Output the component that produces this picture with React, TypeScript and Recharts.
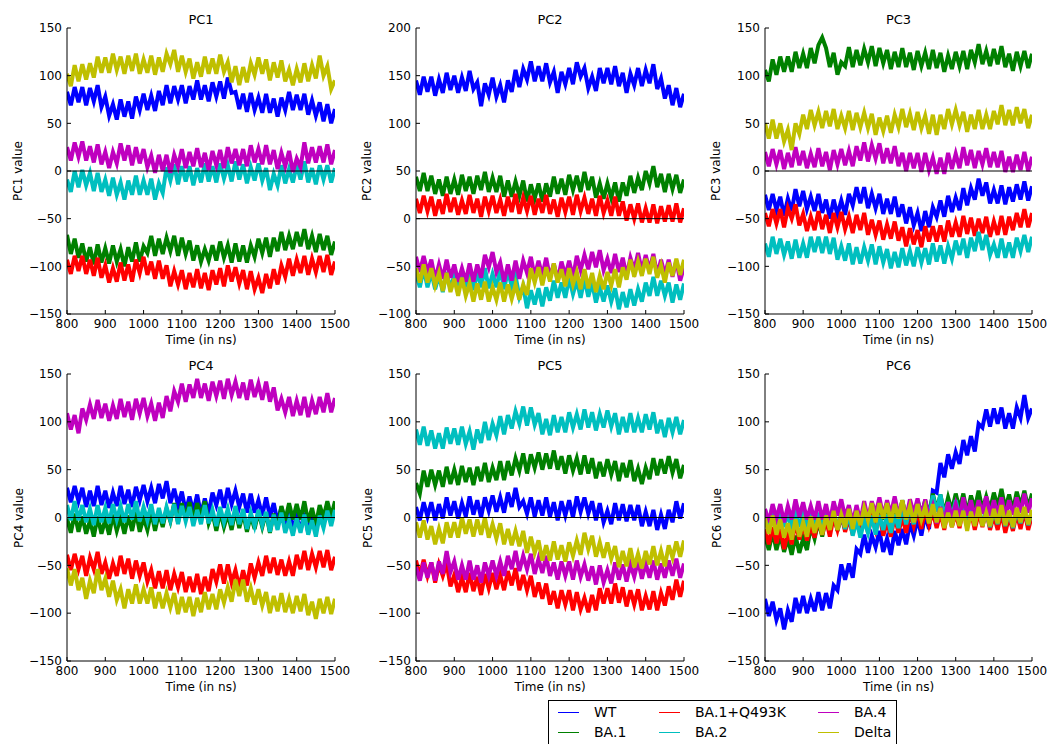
import { LineChart, Line, XAxis, YAxis, ReferenceLine } from 'recharts'

// time axis, one sample every 10 ns
const time = [
  800, 810, 820, 830, 840, 850, 860, 870, 880, 890,
  900, 910, 920, 930, 940, 950, 960, 970, 980, 990,
  1000, 1010, 1020, 1030, 1040, 1050, 1060, 1070, 1080, 1090,
  1100, 1110, 1120, 1130, 1140, 1150, 1160, 1170, 1180, 1190,
  1200, 1210, 1220, 1230, 1240, 1250, 1260, 1270, 1280, 1290,
  1300, 1310, 1320, 1330, 1340, 1350, 1360, 1370, 1380, 1390,
  1400, 1410, 1420, 1430, 1440, 1450, 1460, 1470, 1480, 1490,
  1500,
]

const seriesNames = ['WT', 'BA.1', 'BA.1+Q493K', 'BA.2', 'BA.4', 'Delta']
const xTicks = [800, 900, 1000, 1100, 1200, 1300, 1400, 1500]
const yTicksStd = [-150, -100, -50, 0, 50, 100, 150]
const yTicksPC2 = [-100, -50, 0, 50, 100, 150, 200]

// ---- PC1
const pc1WT = [83, 69, 88, 72, 88, 69, 87, 73, 90, 67, 78, 58, 70, 54, 75, 57, 73, 55, 78, 64, 81, 64, 79, 63, 84, 69, 90, 71, 89, 75, 90, 71, 89, 75, 95, 75, 90, 73, 93, 78, 94, 76, 98, 82, 83, 65, 81, 62, 82, 64, 77, 61, 81, 61, 76, 57, 77, 64, 83, 64, 80, 64, 81, 59, 74, 58, 72, 52, 70, 50, 65]
const pc1BA1 = [-67, -87, -71, -91, -76, -95, -80, -98, -77, -96, -81, -97, -78, -95, -82, -100, -80, -95, -75, -95, -79, -86, -68, -89, -71, -87, -70, -84, -68, -89, -70, -87, -73, -94, -78, -95, -82, -94, -78, -94, -74, -91, -78, -96, -76, -95, -78, -96, -78, -90, -71, -86, -70, -90, -70, -84, -64, -83, -68, -82, -64, -79, -61, -82, -68, -85, -66, -83, -68, -88, -74]
const pc1BA1Q = [-93, -108, -89, -105, -89, -108, -93, -110, -91, -112, -99, -117, -102, -116, -96, -115, -98, -116, -93, -107, -90, -109, -95, -113, -94, -113, -99, -121, -105, -119, -104, -124, -107, -122, -103, -123, -107, -125, -104, -119, -102, -121, -99, -116, -101, -118, -104, -124, -105, -124, -112, -128, -108, -123, -103, -119, -99, -111, -92, -110, -93, -107, -89, -109, -92, -106, -89, -106, -88, -109, -95]
const pc1BA2 = [-9, -22, 0, -17, 1, -15, -2, -21, -2, -22, -9, -26, -7, -25, -12, -30, -10, -25, -5, -25, -10, -25, -8, -30, -13, -23, 4, -10, 7, -14, 5, -11, 5, -15, 3, -12, 8, -11, 5, -12, 8, -8, 6, -11, 10, -9, 7, -13, 4, -10, 8, -10, 3, -20, -3, -15, 6, -13, 2, -12, 6, -9, 10, -12, 3, -14, 6, -9, 6, -12, 3]
const pc1BA4 = [25, 11, 30, 15, 31, 11, 26, 9, 28, 7, 20, 3, 20, 8, 29, 11, 27, 6, 25, 8, 23, 4, 16, -2, 17, 0, 17, -2, 17, 5, 23, 3, 20, 5, 24, 4, 19, 1, 21, 6, 22, 3, 25, 8, 23, 6, 23, 5, 27, 9, 23, 7, 27, 7, 22, 2, 19, 5, 21, -1, 13, 4, 30, 8, 25, 9, 26, 9, 28, 7, 22]
const pc1Delta = [102, 89, 111, 94, 112, 96, 113, 98, 120, 103, 119, 103, 123, 106, 120, 102, 121, 105, 123, 102, 117, 103, 121, 101, 119, 104, 123, 112, 127, 104, 121, 104, 118, 97, 114, 99, 120, 102, 118, 102, 122, 104, 114, 93, 110, 90, 109, 93, 113, 101, 119, 102, 117, 95, 114, 98, 116, 94, 106, 90, 107, 93, 113, 94, 111, 97, 121, 100, 110, 86, 95]

// ---- PC2
const pc2WT = [145, 130, 149, 133, 149, 129, 146, 132, 153, 135, 150, 132, 148, 134, 155, 136, 143, 118, 142, 130, 148, 128, 140, 122, 145, 133, 156, 138, 157, 146, 165, 144, 160, 144, 163, 143, 154, 132, 154, 141, 158, 141, 164, 149, 158, 137, 149, 134, 158, 142, 158, 141, 160, 139, 153, 132, 152, 140, 158, 139, 156, 142, 162, 136, 147, 126, 140, 119, 137, 117, 131]
const pc2BA1 = [44, 29, 48, 29, 45, 26, 41, 24, 44, 26, 41, 25, 46, 29, 44, 26, 45, 30, 49, 28, 43, 28, 45, 23, 40, 23, 39, 24, 40, 18, 36, 21, 37, 18, 37, 23, 44, 26, 42, 25, 46, 30, 45, 28, 49, 30, 44, 22, 37, 21, 37, 22, 38, 18, 38, 24, 45, 27, 43, 30, 50, 37, 55, 33, 47, 28, 47, 31, 46, 27, 41]
const pc2BA1Q = [21, 6, 24, 8, 23, 3, 20, 5, 26, 7, 22, 4, 19, 5, 25, 6, 21, 2, 23, 8, 24, 6, 20, 3, 23, 7, 26, 5, 22, 8, 24, 4, 21, 6, 25, 5, 20, 2, 22, 7, 23, 4, 25, 8, 22, 5, 21, 3, 24, 6, 19, 3, 23, 3, 18, -2, 15, 0, 16, -4, 11, -4, 15, -5, 13, -3, 14, -3, 16, -4, 11]
const pc2BA2 = [-57, -72, -52, -72, -56, -74, -59, -77, -56, -74, -59, -75, -55, -72, -57, -75, -56, -72, -52, -73, -58, -72, -53, -74, -55, -71, -60, -82, -71, -94, -75, -90, -73, -92, -72, -86, -65, -83, -67, -83, -62, -79, -65, -83, -63, -82, -67, -88, -72, -87, -70, -87, -73, -95, -77, -93, -74, -91, -74, -87, -67, -81, -61, -81, -65, -81, -67, -88, -69, -85, -68]
const pc2BA4 = [-40, -56, -39, -56, -43, -64, -48, -63, -43, -62, -48, -66, -52, -66, -47, -66, -48, -62, -38, -51, -35, -56, -46, -66, -48, -65, -44, -63, -44, -57, -40, -61, -44, -60, -41, -62, -47, -65, -45, -60, -44, -62, -39, -54, -38, -53, -35, -51, -33, -54, -42, -57, -37, -56, -41, -60, -41, -54, -36, -55, -38, -54, -37, -59, -43, -59, -43, -61, -44, -65, -51]
const pc2Delta = [-52, -67, -48, -67, -52, -70, -57, -76, -57, -77, -63, -81, -62, -81, -68, -87, -68, -85, -66, -87, -72, -85, -67, -87, -69, -84, -69, -85, -69, -80, -52, -67, -51, -70, -51, -66, -47, -67, -53, -71, -52, -69, -56, -74, -53, -73, -57, -77, -60, -74, -56, -70, -53, -72, -51, -64, -43, -61, -45, -60, -42, -58, -40, -62, -49, -67, -46, -60, -42, -59, -43]

// ---- PC3
const pc3WT = [-25, -41, -24, -41, -27, -47, -29, -42, -19, -37, -21, -40, -27, -42, -24, -44, -30, -50, -30, -46, -31, -46, -24, -36, -17, -34, -17, -39, -24, -39, -24, -45, -29, -45, -27, -48, -35, -55, -38, -57, -44, -63, -42, -59, -38, -48, -31, -48, -26, -43, -28, -41, -18, -36, -18, -30, -8, -26, -12, -34, -20, -34, -15, -35, -17, -32, -14, -30, -11, -31, -16]
const pc3BA1 = [106, 94, 117, 101, 120, 104, 120, 104, 125, 108, 123, 108, 129, 113, 132, 140, 129, 109, 124, 101, 114, 110, 130, 109, 127, 111, 128, 114, 131, 110, 129, 113, 127, 107, 125, 109, 129, 109, 124, 106, 126, 110, 124, 107, 127, 108, 124, 104, 121, 107, 125, 110, 126, 107, 127, 114, 133, 112, 126, 110, 128, 112, 131, 109, 123, 105, 125, 110, 126, 108, 123]
const pc3BA1Q = [-44, -58, -40, -55, -40, -59, -39, -50, -35, -57, -45, -63, -48, -62, -42, -61, -46, -65, -44, -59, -43, -61, -48, -65, -46, -62, -44, -67, -51, -67, -52, -72, -56, -71, -53, -73, -59, -79, -60, -77, -62, -80, -58, -74, -58, -74, -57, -74, -52, -69, -54, -69, -47, -66, -49, -68, -50, -65, -48, -69, -53, -67, -47, -67, -48, -62, -44, -59, -40, -59, -44]
const pc3BA2 = [-76, -90, -69, -87, -71, -88, -74, -92, -72, -91, -76, -91, -69, -85, -69, -86, -69, -87, -70, -93, -79, -94, -76, -98, -80, -97, -80, -94, -77, -98, -79, -96, -82, -102, -85, -101, -81, -99, -84, -100, -80, -96, -81, -98, -76, -95, -78, -97, -79, -92, -73, -88, -71, -91, -70, -84, -64, -83, -67, -88, -77, -91, -71, -91, -75, -91, -70, -84, -67, -85, -69]
const pc3BA4 = [20, 5, 23, 7, 22, 2, 19, 4, 25, 6, 21, 3, 18, 4, 24, 5, 20, 1, 22, 7, 23, 6, 21, 5, 26, 11, 30, 10, 27, 13, 29, 8, 24, 8, 26, 5, 19, 0, 19, 3, 19, -1, 19, 1, 14, -3, 14, -3, 19, 2, 18, 3, 25, 6, 22, 3, 21, 7, 24, 4, 20, 4, 21, -1, 15, -1, 17, 1, 20, 0, 15]
const pc3Delta = [50, 34, 54, 34, 50, 31, 43, 22, 50, 39, 59, 44, 64, 48, 62, 45, 63, 47, 65, 44, 58, 45, 63, 43, 61, 46, 61, 45, 60, 38, 56, 42, 58, 40, 59, 46, 65, 46, 60, 43, 62, 45, 58, 39, 59, 38, 59, 44, 65, 49, 64, 48, 62, 41, 59, 44, 64, 44, 59, 44, 63, 49, 69, 48, 64, 48, 67, 50, 65, 45, 59]

// ---- PC4
const pc4WT = [31, 16, 33, 17, 31, 11, 28, 12, 33, 13, 28, 10, 26, 12, 33, 14, 29, 11, 32, 18, 34, 17, 31, 15, 35, 20, 38, 15, 30, 13, 27, 6, 22, 6, 24, 3, 20, 4, 26, 13, 29, 10, 31, 14, 28, 11, 25, 5, 25, 5, 18, 2, 21, 1, 15, -5, 11, -5, 9, -13, 1, -14, 5, -16, 2, -13, 7, -7, 14, -4, 12]
const pc4BA1 = [-1, -16, 4, -15, 1, -17, -3, -20, 1, -17, -2, -18, 3, -14, 0, -17, 2, -14, 6, -15, 0, -13, 6, -14, 5, -10, 9, -4, 15, -5, 15, 0, 16, -3, 15, 1, 17, -6, 5, -14, 6, -10, 4, -13, 8, -11, 5, -15, 2, -12, 6, -10, 5, -16, 4, -11, 12, -3, 15, -2, 14, -2, 17, -5, 10, -8, 13, 0, 17, 1, 17]
const pc4BA1Q = [-39, -55, -38, -54, -40, -61, -42, -54, -36, -59, -47, -64, -48, -61, -40, -59, -43, -64, -45, -61, -47, -67, -55, -74, -56, -74, -55, -76, -59, -73, -57, -78, -62, -78, -59, -80, -62, -77, -54, -67, -49, -69, -49, -68, -55, -73, -55, -71, -48, -63, -47, -61, -40, -58, -42, -60, -44, -61, -46, -61, -39, -54, -35, -55, -38, -52, -35, -52, -34, -55, -41]
const pc4BA2 = [13, -3, 17, -3, 13, -5, 9, -8, 13, -5, 10, -6, 14, -2, 12, -5, 14, -2, 17, -4, 11, -3, 14, -7, 10, -6, 11, -3, 14, -7, 12, -4, 11, -9, 8, -7, 13, -6, 8, -9, 11, -5, 9, -8, 12, -7, 9, -12, 5, -9, 8, -8, 6, -15, 3, -13, 5, -16, -3, -19, -1, -16, 3, -18, -3, -20, 2, -11, 7, -9, 8]
const pc4BA4 = [109, 92, 107, 88, 114, 102, 118, 103, 123, 104, 119, 101, 117, 103, 124, 105, 121, 102, 124, 109, 125, 106, 119, 101, 120, 104, 127, 111, 132, 121, 140, 121, 139, 125, 145, 125, 140, 122, 142, 127, 143, 124, 145, 128, 142, 125, 141, 123, 144, 126, 140, 123, 142, 121, 136, 112, 124, 110, 126, 106, 122, 107, 126, 105, 122, 108, 126, 110, 130, 110, 125]
const pc4Delta = [-53, -71, -54, -76, -63, -85, -66, -79, -54, -76, -64, -83, -66, -86, -75, -95, -75, -90, -70, -90, -75, -90, -73, -95, -78, -95, -79, -94, -79, -101, -83, -99, -83, -103, -84, -99, -78, -96, -80, -96, -75, -89, -73, -88, -65, -82, -65, -88, -74, -91, -75, -92, -78, -100, -82, -98, -79, -99, -85, -100, -82, -98, -80, -102, -88, -106, -85, -100, -83, -101, -85]

// ---- PC5
const pc5WT = [11, -3, 16, 1, 16, -3, 14, -1, 21, 2, 17, -1, 15, 1, 22, 3, 18, 0, 21, 7, 23, 6, 21, 5, 26, 11, 31, 11, 17, 4, 21, 1, 18, 2, 21, 1, 16, -3, 17, 2, 18, 0, 22, 6, 21, 4, 17, -3, 15, -5, 7, -7, 15, -3, 14, -4, 13, -3, 13, -9, 6, -9, 8, -13, 3, -12, 8, -5, 17, -1, 15]
const pc5BA1 = [36, 25, 49, 32, 50, 34, 49, 32, 53, 35, 50, 34, 54, 37, 52, 34, 53, 38, 57, 37, 52, 39, 59, 39, 59, 44, 62, 49, 67, 46, 66, 52, 68, 50, 67, 51, 70, 50, 64, 46, 65, 49, 62, 45, 65, 46, 62, 41, 58, 43, 61, 45, 59, 38, 57, 42, 60, 38, 51, 35, 52, 40, 62, 44, 61, 46, 64, 47, 61, 41, 55]
const pc5BA1Q = [-45, -61, -44, -61, -47, -68, -49, -61, -48, -72, -60, -78, -63, -78, -58, -77, -62, -81, -59, -74, -58, -75, -60, -76, -56, -71, -53, -76, -60, -76, -61, -83, -68, -85, -69, -91, -77, -95, -76, -91, -76, -97, -78, -96, -84, -99, -81, -97, -74, -90, -74, -90, -69, -89, -73, -93, -76, -91, -75, -97, -82, -96, -77, -97, -79, -92, -72, -86, -65, -83, -66]
const pc5BA2 = [92, 76, 95, 75, 91, 72, 88, 72, 94, 77, 93, 76, 95, 77, 90, 71, 92, 78, 100, 81, 98, 86, 106, 87, 107, 93, 111, 98, 116, 96, 115, 97, 109, 87, 103, 86, 107, 89, 105, 89, 110, 94, 108, 92, 113, 94, 110, 91, 108, 94, 112, 95, 109, 87, 105, 89, 109, 89, 104, 89, 108, 92, 110, 88, 102, 84, 104, 89, 105, 87, 102]
const pc5BA4 = [-52, -66, -47, -63, -47, -66, -46, -59, -35, -57, -46, -65, -50, -65, -45, -65, -50, -68, -47, -61, -45, -61, -46, -61, -40, -54, -35, -56, -40, -54, -38, -59, -43, -58, -40, -61, -47, -65, -46, -61, -46, -65, -45, -62, -49, -66, -51, -70, -50, -68, -55, -69, -47, -65, -49, -67, -49, -62, -45, -64, -48, -63, -45, -65, -48, -63, -45, -61, -43, -63, -48]
const pc5Delta = [-5, -21, -3, -23, -9, -28, -12, -27, -5, -21, -5, -21, 0, -17, -2, -20, -2, -18, 0, -21, -7, -22, -6, -28, -12, -29, -14, -30, -14, -37, -20, -37, -24, -45, -29, -45, -25, -44, -29, -46, -26, -40, -24, -39, -16, -33, -19, -41, -26, -42, -26, -43, -30, -52, -35, -51, -32, -52, -38, -53, -35, -49, -30, -50, -35, -51, -29, -42, -25, -41, -24]

// ---- PC6
const pc6WT = [-85, -103, -88, -107, -95, -117, -97, -109, -84, -100, -82, -100, -85, -98, -78, -97, -79, -95, -71, -76, -49, -65, -48, -63, -33, -38, -18, -37, -19, -31, -14, -36, -22, -39, -14, -29, -12, -28, -6, -19, -1, -19, 3, -12, 28, 26, 57, 42, 66, 51, 68, 56, 81, 65, 85, 69, 98, 94, 113, 95, 114, 98, 115, 93, 109, 93, 115, 104, 128, 104, 114]
const pc6BA1 = [-19, -34, -15, -34, -18, -36, -22, -39, -19, -37, -22, -34, -9, -22, -4, -20, 1, -14, 6, -14, 1, -12, 7, -13, 6, -9, 9, -4, 14, -6, 14, -2, 14, -6, 13, -2, 18, 0, 15, -2, 18, 3, 18, 2, 25, 8, 24, 4, 21, 7, 25, 9, 25, 4, 23, 9, 28, 8, 22, 8, 26, 11, 30, 9, 24, 7, 27, 12, 28, 10, 25]
const pc6BA1Q = [-12, -28, -10, -27, -12, -33, -15, -28, -5, -23, -7, -24, -8, -21, 0, -18, -2, -20, 1, -13, 3, -15, -1, -18, 2, -14, 5, -16, 1, -13, 3, -19, -5, -20, 1, -16, 1, -16, 5, -9, 7, -12, 9, -8, 6, -11, 5, -13, 8, -10, 4, -11, 10, -10, 6, -13, 5, -10, 7, -13, 2, -13, 5, -16, 1, -14, 4, -12, 7, -13, 2]
const pc6BA2 = [8, -8, 12, -7, 8, -10, 5, -13, 8, -10, 4, -12, 8, -9, 5, -13, 6, -10, 9, -12, 3, -12, 4, -19, -3, -21, -3, -16, 2, -18, 2, -13, 3, -16, 3, -11, 10, -7, 9, -7, 14, -1, 15, 0, 23, 6, 24, 1, 16, 0, 18, 1, 15, -7, 11, -5, 13, -8, 6, -10, 8, -7, 12, -9, 6, -11, 9, -6, 10, -8, 7]
const pc6BA4 = [9, -5, 14, -1, 14, -5, 12, -2, 19, 1, 16, -2, 12, -2, 17, -2, 14, -5, 17, 2, 19, 0, 13, -6, 13, -4, 17, -2, 17, 4, 21, 1, 18, 3, 22, 2, 17, -1, 19, 4, 20, 0, 19, 0, 12, -6, 11, -6, 16, -1, 14, -1, 21, 2, 18, 0, 18, 4, 22, 2, 18, 3, 21, 1, 18, 3, 21, 5, 25, 5, 20]
const pc6Delta = [-1, -17, 2, -18, -2, -21, -6, -23, -2, -20, -5, -20, 1, -16, -1, -18, 2, -13, 7, -13, 3, -10, 9, -12, 7, -8, 10, -3, 15, -5, 15, -1, 15, -5, 14, -1, 18, -2, 12, -5, 14, -2, 11, -6, 14, -5, 10, -11, 5, -10, 7, -9, 7, -14, 6, -9, 11, -9, 5, -9, 9, -6, 13, -8, 7, -10, 10, -5, 11, -7, 8]

// matplotlib classic colour cycle
const colors = ['#0000ff', '#008000', '#ff0000', '#00bfbf', '#bf00bf', '#bfbf00']

const panels = [
  { title: 'PC1', series: [pc1WT, pc1BA1, pc1BA1Q, pc1BA2, pc1BA4, pc1Delta], yTicks: yTicksStd },
  { title: 'PC2', series: [pc2WT, pc2BA1, pc2BA1Q, pc2BA2, pc2BA4, pc2Delta], yTicks: yTicksPC2 },
  { title: 'PC3', series: [pc3WT, pc3BA1, pc3BA1Q, pc3BA2, pc3BA4, pc3Delta], yTicks: yTicksStd },
  { title: 'PC4', series: [pc4WT, pc4BA1, pc4BA1Q, pc4BA2, pc4BA4, pc4Delta], yTicks: yTicksStd },
  { title: 'PC5', series: [pc5WT, pc5BA1, pc5BA1Q, pc5BA2, pc5BA4, pc5Delta], yTicks: yTicksStd },
  { title: 'PC6', series: [pc6WT, pc6BA1, pc6BA1Q, pc6BA2, pc6BA4, pc6Delta], yTicks: yTicksStd },
]

// plot-area boxes (left, top, width, height) in page pixels
const boxes = [
  { x: 67, y: 28, w: 268, h: 286 },
  { x: 416, y: 28, w: 268, h: 286 },
  { x: 765, y: 28, w: 267, h: 286 },
  { x: 67, y: 374, w: 268, h: 287 },
  { x: 416, y: 374, w: 268, h: 287 },
  { x: 765, y: 374, w: 267, h: 287 },
]

const FONT = "'DejaVu Sans', sans-serif"
const AXIS_W = 60
const TOP = 28
const RIGHT = 30
const fmt = (v: number) => (v < 0 ? '\u2212' + Math.abs(v) : String(v))

function Panel({ panel, box }: { panel: typeof panels[0]; box: typeof boxes[0] }) {
  const data = time.map((t, i) => {
    const row: Record<string, number> = { t }
    panel.series.forEach((s, k) => {
      row['s' + k] = s[i]
    })
    return row
  })
  const yDomain = [panel.yTicks[0], panel.yTicks[panel.yTicks.length - 1]]
  const tickStyle = { fontSize: 12, fill: '#000', fontFamily: FONT }

  return (
    <>
      <div style={{ position: 'absolute', left: box.x - AXIS_W, top: box.y - TOP }}>
        <LineChart
          width={AXIS_W + box.w + RIGHT}
          height={TOP + box.h + 40}
          data={data}
          margin={{ top: TOP, right: RIGHT, bottom: 10, left: 0 }}
        >
          <XAxis
            dataKey="t"
            type="number"
            domain={[800, 1500]}
            ticks={xTicks}
            allowDataOverflow
            height={30}
            stroke="#000"
            tickSize={-4}
            tickMargin={9}
            tick={tickStyle}
          />
          <XAxis
            xAxisId="top"
            orientation="top"
            dataKey="t"
            type="number"
            domain={[800, 1500]}
            ticks={xTicks}
            height={0}
            stroke="#000"
            tickSize={-4}
            tick={false}
          />
          <YAxis
            type="number"
            domain={yDomain}
            ticks={panel.yTicks}
            allowDataOverflow
            width={AXIS_W}
            stroke="#000"
            tickSize={-4}
            tickMargin={9}
            tick={tickStyle}
            tickFormatter={fmt}
          />
          <YAxis
            yAxisId="right"
            orientation="right"
            type="number"
            domain={yDomain}
            ticks={panel.yTicks}
            width={0}
            stroke="#000"
            tickSize={-4}
            tick={false}
          />
          {seriesNames.map((name, k) => (
            <Line
              key={name}
              dataKey={'s' + k}
              name={name}
              stroke={colors[k]}
              strokeWidth={4}
              dot={false}
              isAnimationActive={false}
            />
          ))}
          <ReferenceLine y={0} stroke="#000" strokeWidth={1} />
        </LineChart>
      </div>
      <div
        style={{
          position: 'absolute', left: box.x, top: box.y - 16, width: box.w,
          textAlign: 'center', fontSize: 13, lineHeight: '15px',
        }}
      >
        {panel.title}
      </div>
      <div
        style={{
          position: 'absolute', left: box.x, top: box.y + box.h + 19, width: box.w,
          textAlign: 'center', fontSize: 12, lineHeight: '14px',
        }}
      >
        Time (in ns)
      </div>
      <div
        style={{
          position: 'absolute', left: box.x - 49 - box.h / 2, top: box.y + box.h / 2 - 7,
          width: box.h, height: 14, textAlign: 'center', fontSize: 12, lineHeight: '14px',
          transform: 'rotate(-90deg)',
        }}
      >
        {panel.title} value
      </div>
    </>
  )
}

// legend: matplotlib fills columns first (ncol=3)
const legendCols = [
  { line: 9, text: 45 },
  { line: 110, text: 146 },
  { line: 269, text: 305 },
]

export default function App() {
  return (
    <div
      style={{
        position: 'absolute', left: 0, top: 0, width: 1049, height: 744,
        overflow: 'hidden', background: '#fff', fontFamily: FONT, color: '#000',
      }}
    >
      {panels.map((p, i) => (
        <Panel key={p.title} panel={p} box={boxes[i]} />
      ))}
      <div
        style={{
          position: 'absolute', left: 548, top: 700, width: 349, height: 60,
          border: '1px solid #000', background: '#fff', boxSizing: 'border-box',
        }}
      >
        {seriesNames.map((name, k) => {
          const col = legendCols[Math.floor(k / 2)]
          const rowY = k % 2 === 0 ? 12 : 32
          return (
            <div key={name}>
              <div
                style={{
                  position: 'absolute', left: col.line, top: rowY - 1, width: 21, height: 1,
                  background: colors[k],
                }}
              />
              <div
                style={{
                  position: 'absolute', left: col.text, top: rowY - 9, fontSize: 14,
                  lineHeight: '17px', whiteSpace: 'nowrap',
                }}
              >
                {name}
              </div>
            </div>
          )
        })}
      </div>
    </div>
  )
}
